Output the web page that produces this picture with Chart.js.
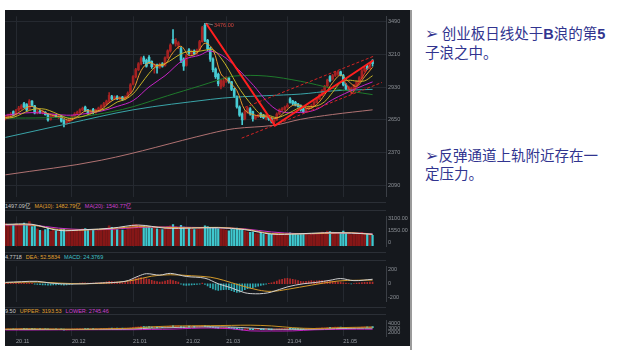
<!DOCTYPE html>
<html lang="zh-CN">
<head>
<meta charset="UTF-8">
<title>创业板日线</title>
<script src="https://cdn.jsdelivr.net/npm/chart.js@4"></script>
<style>
  body { margin: 0; width: 628px; height: 361px; background: #fff; position: relative; overflow: hidden; }
  .panel { position: absolute; left: 5px; top: 10px; width: 405px; height: 336px; background: #15181d; }
  .edge { position: absolute; left: 410px; top: 10px; width: 2px; height: 340px; background: #9b9b9b; }
  .sep { position: absolute; left: 5px; width: 381px; height: 1px; background: #2b2f36; }
  canvas { position: absolute; left: 5px; }
  .hdr { position: absolute; left: 5px; font-family: "Liberation Sans", "Noto Sans CJK SC", sans-serif; font-size: 5.5px; line-height: 7px; white-space: nowrap; color: #c8c8c8; }
  .hdr span { margin-right: 4px; }
  .note { position: absolute; left: 425px; font-family: "Noto Sans CJK SC", sans-serif; font-size: 14.5px; color: #31348f; }
  .note b { font-family: "Liberation Sans", sans-serif; }
  .arrow { font-family: "DejaVu Sans", sans-serif; font-size: 16px; font-weight: bold; line-height: 10px; }
</style>
</head>
<body>
<div class="panel"></div>
<div class="edge"></div>

<canvas id="priceChart" width="405" height="191" style="top:11px"></canvas>
<div class="sep" style="top:202px"></div>
<div class="hdr" style="top:203px"><span>1497.09亿</span><span style="color:#e0a030">MA(10): 1482.79亿</span><span style="color:#d040d0">MA(20): 1540.77亿</span></div>
<div class="sep" style="top:210px"></div>
<canvas id="volChart" width="405" height="41" style="top:211px"></canvas>
<div class="sep" style="top:252px"></div>
<div class="hdr" style="top:253.5px"><span>4.7718</span><span style="color:#e0a030">DEA: 52.5834</span><span style="color:#40c0c8">MACD: 24.3769</span></div>
<div class="sep" style="top:260px"></div>
<canvas id="macdChart" width="405" height="46" style="top:261px"></canvas>
<div class="sep" style="top:307px"></div>
<div class="hdr" style="top:307.5px"><span>9.50</span><span style="color:#e0a030">UPPER: 3193.53</span><span style="color:#d040d0">LOWER: 2745.46</span></div>
<div class="sep" style="top:314px"></div>
<canvas id="bollChart" width="405" height="31" style="top:315px"></canvas>

<div class="note" style="top:23.5px; line-height:18.7px"><span class="arrow">➢</span> 创业板日线处于<b>B</b>浪的第<b>5</b><br>子浪之中。</div>
<div class="note" style="top:145.8px; line-height:18.3px"><span class="arrow">➢</span>反弹通道上轨附近存在一<br>定压力。</div>

<script>
// daily candles, 2020-10-27 .. 2021-05-21 (index = trading day)
const openP = [2660,2670,2680,2720,2695,2735,2745,2790,2780,2740,
  2810,2770,2712,2725,2712,2715,2700,2655,2678,2688,
  2672,2680,2645,2620,2635,2650,2680,2700,2712,2735,
  2760,2735,2705,2740,2715,2735,2745,2765,2785,2805,
  2850,2830,2850,2828,2845,2828,2845,2880,2955,3020,
  3080,3130,3180,3160,3185,3150,3105,3120,3100,3130,
  3115,3180,3240,3340,3300,3290,3260,3170,3115,3250,
  3215,3240,3220,3250,3320,3460,3330,3260,3170,3085,
  3040,2930,2945,2990,3005,2975,2910,2850,2760,2700,
  2660,2720,2745,2720,2665,2680,2705,2690,2665,2680,
  2660,2630,2650,2700,2735,2740,2760,2830,2810,2800,
  2785,2770,2745,2720,2745,2755,2770,2800,2830,2860,
  2900,2940,3020,3000,3030,3040,3060,3030,2950,2910,
  2900,2910,2945,2975,3010,3070,3110,3090,3155];
const highP = [2690,2700,2712,2728,2740,2765,2780,2800,2790,2823,
  2815,2775,2735,2732,2730,2722,2705,2690,2700,2695,
  2690,2688,2652,2648,2660,2690,2712,2725,2745,2760,
  2768,2740,2735,2748,2742,2760,2778,2800,2820,2884,
  2860,2855,2858,2850,2852,2855,2890,2960,3030,3090,
  3140,3190,3195,3170,3200,3155,3130,3128,3135,3140,
  3190,3250,3300,3423,3345,3320,3270,3180,3210,3260,
  3248,3250,3255,3330,3450,3476,3340,3270,3180,3095,
  3050,3000,3000,3020,3015,2980,2920,2855,2770,2710,
  2730,2760,2755,2725,2690,2700,2712,2698,2685,2688,
  2668,2660,2710,2745,2755,2768,2790,2840,2818,2808,
  2792,2778,2752,2752,2770,2780,2810,2840,2870,2910,
  2945,3000,3030,3040,3065,3070,3068,3040,2960,2940,
  2930,2955,2985,3020,3080,3100,3125,3140,3165];
const lowP = [2650,2660,2672,2684,2688,2725,2740,2752,2725,2735,
  2765,2700,2700,2705,2700,2690,2640,2648,2670,2668,
  2660,2630,2590,2612,2628,2645,2672,2692,2705,2728,
  2722,2698,2698,2700,2708,2728,2740,2760,2778,2800,
  2820,2822,2822,2820,2815,2820,2840,2875,2950,3010,
  3070,3120,3130,3100,3130,3090,3050,3050,3090,3100,
  3110,3175,3230,3300,3280,3260,3140,3073,3110,3210,
  3200,3205,3210,3245,3315,3320,3240,3150,3060,3005,
  2940,2915,2935,2970,2965,2900,2840,2750,2680,2610,
  2650,2705,2690,2640,2655,2672,2670,2660,2650,2645,
  2625,2601,2645,2692,2725,2732,2752,2792,2780,2770,
  2758,2725,2710,2712,2735,2748,2765,2795,2825,2855,
  2895,2930,2975,2990,3020,3030,3025,2940,2905,2895,
  2873,2900,2938,2968,3005,3060,3080,3085,3110];
const closeP = [2678,2690,2700,2690,2730,2750,2770,2760,2735,2810,
  2775,2710,2722,2712,2720,2695,2650,2680,2690,2675,
  2682,2640,2618,2640,2652,2680,2700,2715,2735,2748,
  2730,2705,2725,2712,2735,2750,2770,2790,2810,2860,
  2830,2845,2830,2842,2825,2845,2880,2950,3020,3080,
  3130,3175,3150,3110,3140,3105,3120,3095,3125,3110,
  3180,3240,3290,3310,3330,3310,3160,3110,3200,3220,
  3235,3215,3245,3320,3440,3330,3260,3170,3080,3020,
  2960,2990,2985,3010,2975,2910,2850,2760,2690,2650,
  2720,2750,2700,2660,2680,2692,2680,2670,2675,2655,
  2640,2650,2700,2735,2745,2760,2775,2800,2790,2775,
  2765,2735,2720,2745,2760,2770,2800,2830,2860,2900,
  2935,2990,2985,3030,3055,3060,3035,2950,2915,2930,
  2920,2945,2975,3010,3070,3090,3090,3120,3130];
// volume, 亿
const volume = [2900,2700,2600,2800,2850,2750,2650,2950,2700,3150,
  2500,2600,2200,2000,1950,2100,2300,1900,2000,1950,
  1850,2200,2150,1900,1950,2100,2050,2000,2150,2200,
  2250,2100,1900,2000,1950,2050,2150,2200,2300,2600,
  2400,2200,2100,2000,2050,2000,2300,2600,2750,2800,
  2700,2650,2550,2400,2500,2300,2400,2200,2150,2100,
  2350,2500,2600,2750,2500,2400,2650,2450,2300,2250,
  2200,2100,2150,2300,2450,2600,2500,2400,2350,2300,
  2250,2200,2100,2050,1950,2150,2100,2300,2200,2000,
  1950,1800,1750,1800,1600,1550,1650,1500,1450,1550,
  1500,1600,1700,1650,1550,1500,1600,1700,1550,1500,
  1450,1550,1500,1450,1400,1500,1550,1650,1700,1800,
  1750,1900,1850,1800,1750,1700,1650,1900,1600,1500,
  1450,1500,1550,1600,1750,1650,1550,1500,1350];
// MACD histogram
const macdHist = [5,8,10,6,8,12,15,10,5,12,6,
  -5,-10,-12,-15,-18,-22,-20,-18,-15,-14,-18,-22,-15,-10,
  -5,2,6,10,14,12,8,10,8,12,15,
  18,22,28,35,30,28,25,22,18,20,30,45,
  60,75,85,90,80,70,65,50,40,30,25,
  28,40,50,55,45,35,25,
  -5,-20,-25,-20,-15,-12,-10,-5,10,
  -8,-30,-55,-75,-90,-95,-90,-85,
  -80,-85,-100,-115,-125,-120,-100,-85,-70,-60,-55,-45,-35,-25,
  -15,-5,5,15,25,40,55,65,75,
  78,72,65,55,45,35,30,35,40,45,
  40,42,45,45,42,40,38,35,30,28,25,
  15,8,2,-3,2,8,12,16,20,22,24,24.38];

// moving averages (at these day indexes)
const maIdx = [0,3,6,9,12,15,18,21,24,27,30,33,36,39,42,45,48,51,54,57,60,63,66,69,72,75,78,81,84,87,90,93,96,99,102,105,108,111,114,117,120,123,126,129,132,135,138];
const ma5 = [2670,2685,2728,2765,2750,2712,2687,2673,2646,2677,2726,2724,2738,2796,2835,2837,2904,3071,3141,3114,3126,3226,3280,3200,3223,3306,3252,3044,2979,2901,2734,2696,2682,2674,2664,2718,2774,2773,2745,2781,2865,2968,3033,2978,2937,3018,3100];
const ma10 = [2665,2672,2700,2731,2745,2741,2716,2687,2662,2669,2686,2710,2733,2759,2803,2825,2873,2958,3048,3113,3131,3172,3215,3235,3234,3246,3250,3180,3076,2952,2852,2767,2698,2688,2670,2691,2725,2758,2763,2769,2806,2886,2968,2989,2982,2984,3028];
const ma20Idx = [0,10,23,29,36,42,48,54,60,67,73,77,83,92,102,111,117,123,132,138];
const ma20 = [2690,2712,2690,2700,2725,2765,2815,2932,3028,3164,3203,3239,3177,2976,2736,2714,2740,2824,2920,2975];
const ma60Idx = [0,15,29,40,48,61,73,80,86,98,111,123,138];
const ma60 = [2665,2668,2680,2720,2763,2857,2940,2990,3025,3025,2980,2920,2866];
const ma120Idx = [0,23,48,77,86,98,111,123,138];
const ma120 = [2500,2615,2736,2825,2844,2857,2871,2898,2911];
const ma250Idx = [0,36,77,86,101,111,123,138];
const ma250 = [2180,2305,2534,2575,2604,2655,2696,2736];

// hand-drawn wave lines on the price pane
const waveIdx = [75.4,101.3,138.3];
const wave = [3476,2601,3160];
const chanLowIdx = [88.8,141.5];
const chanLow = [2494,2970];
const chanUpIdx = [90,138.9];
const chanUp = [2757,3199];
const subIdx = [127,130.3,138];
const sub = [2997,2873,3156];
const peakIdx = 75, peakVal = 3476;

// volume averages
const volMaIdx = [0,10,20,30,40,50,60,70,80,90,100,110,120,130,138];
const volMa5 = [2800,2800,2000,2100,2300,2700,2300,2300,2350,2100,1520,1550,1700,1650,1497];
const volMa10 = [2750,2700,2100,2050,2250,2500,2400,2350,2400,2150,1600,1550,1620,1700,1483];
const volMa20 = [2700,2700,2300,2100,2150,2400,2450,2400,2350,2200,1800,1580,1600,1680,1541];

// MACD lines
const difIdx = [0,6,12,17,25,35,45,50,53,58,62,68,75,80,85,90,94,97,100,106,112,117,122,126,131,138];
const dif = [20,30,35,10,-5,10,35,110,145,125,150,105,80,0,-60,-130,-145,-140,-120,-45,0,20,50,75,45,64.77];
const deaIdx = [0,12,20,30,40,48,55,62,70,77,82,88,95,100,106,115,125,132,138];
const dea = [15,25,10,0,15,50,110,130,115,95,50,-20,-90,-110,-80,-20,40,50,52.58];

// Bollinger
const bollIdx = [0,10,20,30,40,48,55,63,70,77,85,92,100,108,116,124,132,138];
const bollUp = [2790,2830,2780,2770,2870,2980,3250,3420,3480,3500,3560,3600,3450,3080,2900,3050,3160,3193.53];
const bollMid = [2690,2710,2700,2705,2760,2817,2980,3100,3210,3255,3200,3000,2760,2740,2760,2880,2960,2969.5];
const bollLow = [2590,2590,2620,2640,2650,2655,2710,2780,2940,3010,2840,2400,2380,2400,2620,2710,2760,2745.46];

// axes
const monthIdx = [4,25,48,68,83,106,127];
const monthLabels = ['20.11','20.12','21.01','21.02','21.03','21.04','21.05'];
const priceTicks = [2090,2370,2650,2930,3210,3490];
const volTicks = [0,1550,3100];
const macdTicks = [-200,0,200];
const bollTicks = [2000,3000,4000];

const FONT = "'Liberation Sans', 'DejaVu Sans', sans-serif";
const GRID = '#252930';
const UP = '#a52222', DOWN = '#47ccd4';

const days = closeP.map((_, i) => i);
const isUp = days.map(i => closeP[i] >= openP[i]);
const candleCol = isUp.map(u => u ? UP : DOWN);

function xAxis(showLabels) {
    return {
        type: 'linear', min: -0.15, max: 143.05, offset: false,
        grid: { color: GRID, drawTicks: false, offset: false },
        border: { display: false },
        afterBuildTicks: s => { s.ticks = monthIdx.map(v => ({ value: v })); },
        afterFit: s => { s.height = showLabels ? 10 : 0; },
        ticks: {
            display: showLabels, autoSkip: false, maxRotation: 0, align: 'start', padding: 2,
            color: '#9a9ea4', font: { size: 5.5, family: FONT },
            callback: v => monthLabels[monthIdx.indexOf(v)]
        }
    };
}

function yAxis(min, max, ticks, fmt, showGrid, labelOffset) {
    return {
        position: 'right', min: min, max: max,
        afterFit: s => { s.width = 24; },
        afterBuildTicks: s => { s.ticks = ticks.map(v => ({ value: v })); },
        grid: { display: showGrid, color: GRID, drawTicks: false },
        border: { color: '#3b3f46' },
        ticks: { autoSkip: false, padding: 2, labelOffset: labelOffset || 0, color: '#8d9197', font: { size: 5.5, family: FONT }, callback: fmt }
    };
}

function line(idx, vals, color, width, extra) {
    return Object.assign({
        type: 'line',
        data: idx.map((x, k) => ({ x: x, y: vals[k] })),
        borderColor: color, borderWidth: width || 1,
        pointRadius: 0, tension: 0.35, order: 0
    }, extra || {});
}

function candles(thin, thick) {
    return [
        { type: 'bar', data: days.map(i => ({ x: i, y: [lowP[i], highP[i]] })), backgroundColor: candleCol, barThickness: thin, grouped: false, order: 2 },
        { type: 'bar', data: days.map(i => ({ x: i, y: [openP[i], closeP[i]] })), backgroundColor: candleCol, barThickness: thick, grouped: false, minBarLength: 0.8, order: 1 }
    ];
}

const baseOptions = (scales) => ({
    responsive: false,
    animation: false,
    devicePixelRatio: 1,
    layout: { padding: 0 },
    plugins: { legend: { display: false }, tooltip: { enabled: false } },
    scales: scales
});

const peakLabel = {
    id: 'peakLabel',
    afterDatasetsDraw(c) {
        const x = c.scales.x.getPixelForValue(peakIdx);
        const y = c.scales.y.getPixelForValue(peakVal);
        const ctx = c.ctx;
        ctx.save();
        ctx.strokeStyle = '#a0a0a0';
        ctx.lineWidth = 0.7;
        ctx.beginPath();
        ctx.moveTo(x + 1, y);
        ctx.lineTo(x + 8, y + 1.5);
        ctx.stroke();
        ctx.fillStyle = '#d8463f';
        ctx.font = '5.5px ' + FONT;
        ctx.textBaseline = 'middle';
        ctx.fillText(peakVal.toFixed(2), x + 9, y + 2);
        ctx.restore();
    }
};

const red = '#ff1f1f';

new Chart(document.getElementById('priceChart'), {
    type: 'bar',
    data: {
        datasets: [
            line(waveIdx, wave, red, 2, { tension: 0, order: -1 }),
            line(chanLowIdx, chanLow, '#d42424', 1, { tension: 0, order: -1, borderDash: [3, 2] }),
            line(chanUpIdx, chanUp, '#d42424', 1, { tension: 0, order: -1, borderDash: [3, 2] }),
            line(subIdx, sub, '#e83a2a', 1, { tension: 0, order: -1 }),
            line(maIdx, ma5, '#e89a30'),
            line(maIdx, ma10, '#c8b428'),
            line(ma20Idx, ma20, '#c624c6'),
            line(ma60Idx, ma60, '#1f7a2c'),
            line(ma120Idx, ma120, '#3aa4a8'),
            line(ma250Idx, ma250, '#b07272'),
            ...candles(1, 2)
        ]
    },
    options: baseOptions({
        x: xAxis(false),
        y: yAxis(1993, 3536, priceTicks, v => String(v), true)
    }),
    plugins: [peakLabel]
});

// up-day volume: dark red, down-day volume: thin cyan
new Chart(document.getElementById('volChart'), {
    type: 'bar',
    data: {
        datasets: [
            line(volMaIdx, volMa5, '#d8d8d8'),
            line(volMaIdx, volMa10, '#e0a030'),
            line(volMaIdx, volMa20, '#c830c8'),
            { type: 'bar', data: days.filter(i => isUp[i]).map(i => ({ x: i, y: volume[i] })), backgroundColor: '#861717', barThickness: 2, grouped: false, order: 2 },
            { type: 'bar', data: days.filter(i => !isUp[i]).map(i => ({ x: i, y: volume[i] })), backgroundColor: '#3fc8cf', barThickness: 1.6, grouped: false, order: 1 }
        ]
    },
    options: baseOptions({
        x: xAxis(false),
        y: yAxis(-126, 3846, volTicks, v => v === 0 ? '0' : v.toFixed(2), false, -3.4)
    })
});

new Chart(document.getElementById('macdChart'), {
    type: 'bar',
    data: {
        datasets: [
            line(difIdx, dif, '#cfcfcf'),
            line(deaIdx, dea, '#d49a2a'),
            { type: 'bar', data: days.map(i => ({ x: i, y: macdHist[i] })), backgroundColor: macdHist.map(v => v >= 0 ? '#b02a2a' : '#2eaab2'), barThickness: 1, order: 1 }
        ]
    },
    options: baseOptions({
        x: xAxis(false),
        y: yAxis(-259, 252, macdTicks, v => String(v), false)
    })
});

new Chart(document.getElementById('bollChart'), {
    type: 'bar',
    data: {
        datasets: [
            line(bollIdx, bollUp, '#c89022'),
            line(bollIdx, bollMid, '#bdbdbd'),
            line(bollIdx, bollLow, '#c020c0'),
            ...candles(1, 1.5)
        ]
    },
    options: baseOptions({
        x: xAxis(true),
        y: yAxis(1318, 4635, bollTicks, v => String(v), false)
    })
});
</script>
</body>
</html>
